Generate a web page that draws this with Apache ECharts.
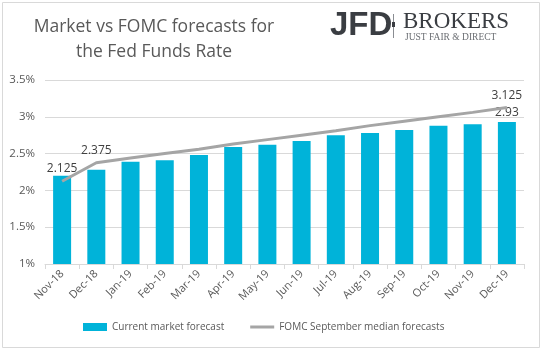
<!DOCTYPE html>
<html>
<head>
<meta charset="utf-8">
<script src="https://cdn.jsdelivr.net/npm/echarts@6/dist/echarts.min.js"></script>
<style>
  html, body { margin: 0; padding: 0; background: #fff; }
  #chart { width: 543px; height: 351px; }
</style>
</head>
<body>
<div id="chart"></div>
<script>
// data
var months = ['Nov-18', 'Dec-18', 'Jan-19', 'Feb-19', 'Mar-19', 'Apr-19', 'May-19',
              'Jun-19', 'Jul-19', 'Aug-19', 'Sep-19', 'Oct-19', 'Nov-19', 'Dec-19'];
var marketForecast = [2.2, 2.28, 2.39, 2.41, 2.48, 2.59, 2.62, 2.67, 2.75, 2.78, 2.82, 2.88, 2.9, 2.93];
var fomcMedian = [2.125, 2.375, 2.44, 2.5, 2.56, 2.63, 2.69, 2.75, 2.81, 2.88, 2.94, 3.0, 3.06, 3.125];
var yTicks = [1, 1.5, 2, 2.5, 3, 3.5];
var fomcLabelled = [0, 1, 13];
var marketLabelled = [13];

var txt = '#595959';
var font = 'Open Sans';

var chart = echarts.init(document.getElementById('chart'));

// labels for the line go on invisible mark points
var fomcMarks = fomcLabelled.map(function(i){
	return {coord: [months[i], fomcMedian[i]], value: fomcMedian[i]};
});

chart.setOption({
	animation: false,
	textStyle: {fontFamily: font},
	graphic: [
		{type: 'rect', shape: {x: 2.5, y: 2.5, width: 537, height: 345},
			style: {fill: 'none', stroke: '#d9d9d9', lineWidth: 1}},
		{type: 'text', x: 154, y: 15,
			style: {text: 'Market vs FOMC forecasts for\nthe Fed Funds Rate', fill: txt,
				font: '17.5px "Open Sans"', lineHeight: 25, align: 'center'}},
		{type: 'text', left: 330, top: 9,
			style: {text: 'JFD', fill: '#3a3d42', font: 'bold 33px "Liberation Sans"'}},
		{type: 'rect', shape: {x: 393, y: 14, width: 1, height: 24}, style: {fill: '#8a8d92'}},
		{type: 'rect', shape: {x: 392, y: 22, width: 3, height: 5}, style: {fill: '#3a3d42'}},
		{type: 'text', left: 403, top: 10,
			style: {text: 'BROKERS', fill: '#3a3d42', font: '23px "Liberation Serif"'}},
		{type: 'text', left: 405, top: 32,
			style: {text: 'JUST FAIR & DIRECT', fill: '#6b6e73', font: '9.5px "Liberation Serif"'}}
	],
	grid: {left: 45, right: 19, top: 80, bottom: 87},
	legend: {
		bottom: 14,
		left: 78,
		itemGap: 26,
		itemWidth: 24,
		itemHeight: 8,
		textStyle: {color: txt, fontSize: 10, fontFamily: font},
		data: [
			{name: 'Current market forecast', icon: 'rect'},
			{name: 'FOMC September median forecasts', icon: 'path://M0,0h24v3h-24z'}
		]
	},
	xAxis: {
		type: 'category',
		data: months,
		axisLine: {lineStyle: {color: '#d9d9d9'}},
		axisTick: {show: true, alignWithLabel: false, length: 5, lineStyle: {color: '#d9d9d9'}},
		axisLabel: {color: txt, fontSize: 11, rotate: 45, margin: 8, interval: 0}
	},
	yAxis: {
		type: 'value',
		min: yTicks[0],
		max: yTicks[yTicks.length - 1],
		interval: 0.5,
		axisLine: {show: false},
		axisTick: {show: false},
		splitLine: {lineStyle: {color: '#d9d9d9'}},
		axisLabel: {color: txt, fontSize: 11.5, margin: 10, formatter: function(v){ return v + '%'; }}
	},
	series: [
		{
			name: 'Current market forecast',
			type: 'bar',
			data: marketForecast.map(function(v, i){
				return marketLabelled.indexOf(i) >= 0 ? {value: v, label: {show: true}} : v;
			}),
			barWidth: 18,
			itemStyle: {color: '#00b3d9'},
			label: {show: false, position: 'top', color: '#404040', fontSize: 12, distance: 3}
		},
		{
			name: 'FOMC September median forecasts',
			type: 'line',
			data: fomcMedian,
			symbol: 'none',
			lineStyle: {color: '#a5a5a5', width: 3},
			itemStyle: {color: '#a5a5a5'},
			markPoint: {
				symbol: 'circle',
				symbolSize: 1,
				itemStyle: {color: 'rgba(0,0,0,0)'},
				label: {show: true, position: 'top', distance: 6, color: '#404040', fontSize: 12,
					formatter: function(p){ return p.value; }},
				data: fomcMarks
			}
		}
	]
});
</script>
</body>
</html>
